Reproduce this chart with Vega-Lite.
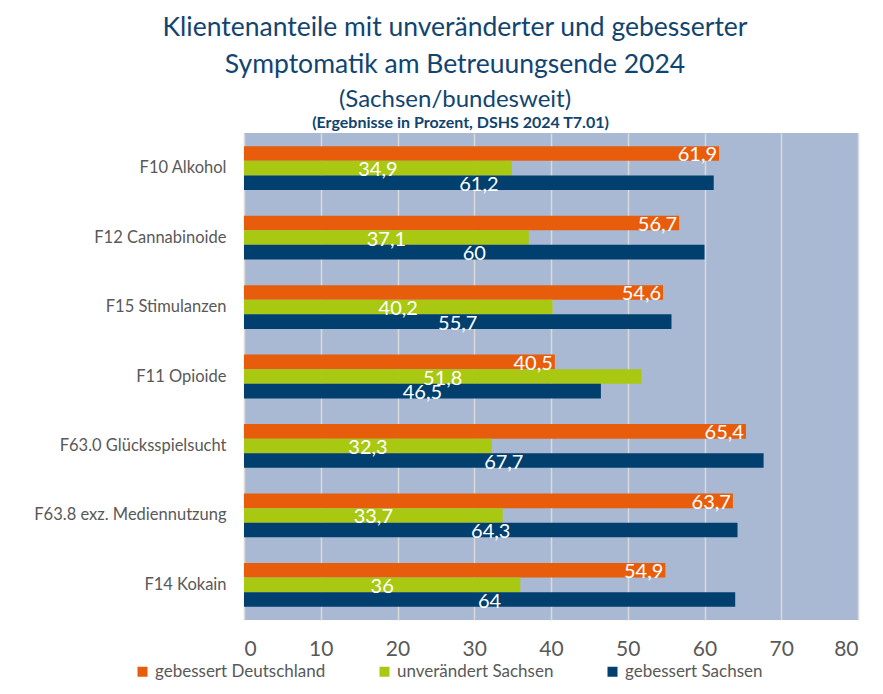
{
  "$schema": "https://vega.github.io/schema/vega-lite/v6.json",
  "width": 614,
  "height": 487,
  "autosize": {"type": "none"},
  "padding": {"left": 244, "top": 133, "right": 25, "bottom": 74},
  "background": "white",
  "config": {
    "font": "Lato",
    "view": {"fill": "#A9B9D3", "stroke": null},
    "locale": {"number": {"decimal": ",", "thousands": ".", "grouping": [3], "currency": ["", " €"]}}
  },
  "title": {
    "text": ["Klientenanteile mit unveränderter und gebesserter", "Symptomatik am Betreuungsende 2024"],
    "subtitle": ["(Sachsen/bundesweit)"],
    "font": "Lato",
    "fontSize": 26.5,
    "fontWeight": "normal",
    "lineHeight": 37,
    "color": "#114470",
    "subtitleFont": "Lato",
    "subtitleFontSize": 24,
    "subtitleColor": "#114470",
    "subtitlePadding": 10,
    "anchor": "middle",
    "frame": "group",
    "dx": -96,
    "offset": 2
  },
  "data": {
    "values": [
      {"kategorie": "F10 Alkohol", "reihe": "gebessert Deutschland", "wert": 61.9},
      {"kategorie": "F10 Alkohol", "reihe": "unverändert Sachsen", "wert": 34.9},
      {"kategorie": "F10 Alkohol", "reihe": "gebessert Sachsen", "wert": 61.2},
      {"kategorie": "F12 Cannabinoide", "reihe": "gebessert Deutschland", "wert": 56.7},
      {"kategorie": "F12 Cannabinoide", "reihe": "unverändert Sachsen", "wert": 37.1},
      {"kategorie": "F12 Cannabinoide", "reihe": "gebessert Sachsen", "wert": 60},
      {"kategorie": "F15 Stimulanzen", "reihe": "gebessert Deutschland", "wert": 54.6},
      {"kategorie": "F15 Stimulanzen", "reihe": "unverändert Sachsen", "wert": 40.2},
      {"kategorie": "F15 Stimulanzen", "reihe": "gebessert Sachsen", "wert": 55.7},
      {"kategorie": "F11 Opioide", "reihe": "gebessert Deutschland", "wert": 40.5},
      {"kategorie": "F11 Opioide", "reihe": "unverändert Sachsen", "wert": 51.8},
      {"kategorie": "F11 Opioide", "reihe": "gebessert Sachsen", "wert": 46.5},
      {"kategorie": "F63.0 Glücksspielsucht", "reihe": "gebessert Deutschland", "wert": 65.4},
      {"kategorie": "F63.0 Glücksspielsucht", "reihe": "unverändert Sachsen", "wert": 32.3},
      {"kategorie": "F63.0 Glücksspielsucht", "reihe": "gebessert Sachsen", "wert": 67.7},
      {"kategorie": "F63.8 exz. Mediennutzung", "reihe": "gebessert Deutschland", "wert": 63.7},
      {"kategorie": "F63.8 exz. Mediennutzung", "reihe": "unverändert Sachsen", "wert": 33.7},
      {"kategorie": "F63.8 exz. Mediennutzung", "reihe": "gebessert Sachsen", "wert": 64.3},
      {"kategorie": "F14 Kokain", "reihe": "gebessert Deutschland", "wert": 54.9},
      {"kategorie": "F14 Kokain", "reihe": "unverändert Sachsen", "wert": 36},
      {"kategorie": "F14 Kokain", "reihe": "gebessert Sachsen", "wert": 64}
    ]
  },
  "encoding": {
    "y": {
      "field": "kategorie",
      "type": "nominal",
      "sort": ["F10 Alkohol", "F12 Cannabinoide", "F15 Stimulanzen", "F11 Opioide", "F63.0 Glücksspielsucht", "F63.8 exz. Mediennutzung", "F14 Kokain"],
      "scale": {"paddingInner": 0.37, "paddingOuter": 0.19},
      "axis": {"title": null, "domain": false, "ticks": false, "labelPadding": 18, "labelFontSize": 16.5, "labelColor": "#595959", "labelFont": "Lato", "labelLimit": 300}
    },
    "yOffset": {
      "field": "reihe",
      "type": "nominal",
      "sort": ["gebessert Deutschland", "unverändert Sachsen", "gebessert Sachsen"],
      "scale": {"paddingInner": 0, "paddingOuter": 0}
    }
  },
  "layer": [
    {
      "mark": {"type": "bar"},
      "encoding": {
        "x": {
          "field": "wert",
          "type": "quantitative",
          "scale": {"domain": [0, 80], "nice": false},
          "axis": {"title": null, "values": [0, 10, 20, 30, 40, 50, 60, 70, 80], "domain": false, "ticks": false, "grid": true, "gridColor": "#D9D9D9", "gridWidth": 1.5, "labelFontSize": 21, "labelColor": "#595959", "labelPadding": 18, "labelFont": "Lato"}
        },
        "color": {
          "field": "reihe",
          "type": "nominal",
          "sort": ["gebessert Deutschland", "unverändert Sachsen", "gebessert Sachsen"],
          "scale": {"domain": ["gebessert Deutschland", "unverändert Sachsen", "gebessert Sachsen"], "range": ["#E85D0C", "#A8C811", "#003F6E"]},
          "legend": {"title": null, "orient": "none", "legendX": -110, "legendY": 530, "direction": "horizontal", "columns": 3, "symbolType": "square", "symbolSize": 100, "symbolStrokeWidth": 0, "labelFontSize": 17, "labelColor": "#595959", "labelFont": "Lato", "labelOffset": 4, "columnPadding": 50, "labelLimit": 300}
        }
      }
    },
    {
      "transform": [{"filter": "datum.reihe === 'gebessert Deutschland'"}],
      "mark": {"type": "text", "align": "right", "baseline": "middle", "dx": -2, "dy": 2, "color": "white", "fontSize": 20, "font": "Lato"},
      "encoding": {
        "x": {"field": "wert", "type": "quantitative", "scale": {"domain": [0, 80], "nice": false}, "axis": null},
        "text": {"field": "wert", "type": "quantitative", "format": "~g"}
      }
    },
    {
      "transform": [{"filter": "datum.reihe !== 'gebessert Deutschland'"}],
      "mark": {"type": "text", "align": "center", "baseline": "middle", "dy": 2, "color": "white", "fontSize": 20, "font": "Lato"},
      "encoding": {
        "x": {
          "field": "wert",
          "type": "quantitative",
          "scale": {"domain": [0, 160], "nice": false},
          "axis": {"orient": "top", "title": "(Ergebnisse in Prozent, DSHS 2024 T7.01)", "titleFontSize": 16, "titleFontWeight": "bold", "titleColor": "#114470", "titleFont": "Lato", "titlePadding": 3, "titleX": 216, "titleAlign": "center", "labels": false, "ticks": false, "domain": false, "grid": false}
        },
        "text": {"field": "wert", "type": "quantitative", "format": "~g"}
      }
    }
  ],
  "resolve": {"scale": {"x": "independent"}}
}
